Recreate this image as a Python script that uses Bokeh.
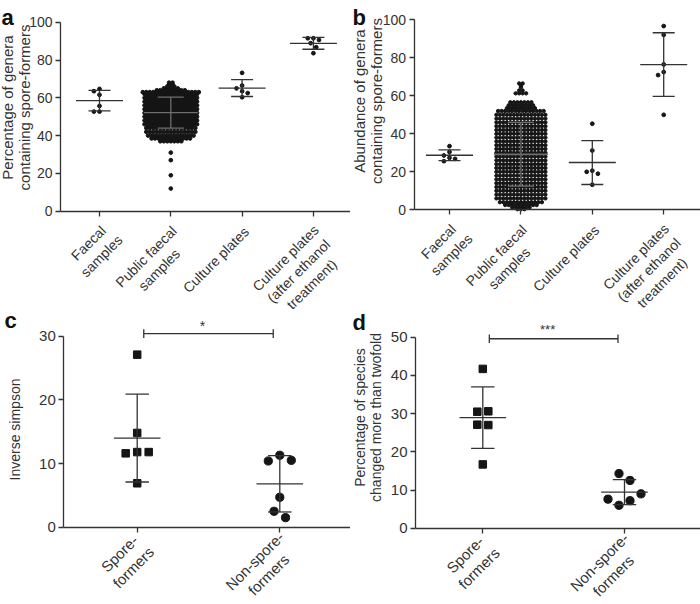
import numpy as np
from math import pi, sqrt
from bokeh.plotting import figure
from bokeh.layouts import column, row
from bokeh.models import Range1d, FixedTicker, Label
from bokeh.embed import file_html
from bokeh.resources import INLINE

FONT = "Liberation Sans"
TXT = "#333333"
LINE = "#333333"
PUBLINE = "#6e6e6e"
DOT = "#151515"

# ---------------- data ----------------
cats_ab = ["Faecal\nsamples", "Public faecal\nsamples", "Culture plates",
           "Culture plates\n(after ethanol\ntreatment)"]
cats_cd = ["Spore-\nformers", "Non-spore-\nformers"]

ylabel_a = "Percentage of genera\ncontaining spore-formers"
ylabel_b = "Abundance of genera\ncontaining spore-formers"
ylabel_c = "Inverse simpson"
ylabel_d = "Percentage of species\nchanged more than twofold"

yticks_ab = [0, 20, 40, 60, 80, 100]
yticks_c = [0, 10, 20, 30]
yticks_d = [0, 10, 20, 30, 40, 50]

a_faecal = [64.7, 63.5, 61.6, 55.7, 52.7, 52.7]
a_public_levels = [12, 19, 27, 31, 37, 38.5, 40, 42, 44, 45, 46, 47, 48, 49, 50, 51,
                   52, 53, 54, 55, 56, 57, 58, 59, 60, 61, 62, 63, 64, 65, 66, 67, 68]
a_public_counts = [1, 1, 1, 1, 7, 12, 14, 15, 15, 14, 16, 15, 16, 15, 16, 15,
                   16, 15, 16, 15, 16, 15, 16, 15, 16, 15, 16, 17, 9, 5, 3, 2, 2]
a_culture = [73.2, 66.5, 65.0, 63.5, 62.5, 60.3]
a_ethanol = [91.5, 91.5, 90.6, 88.9, 86.8, 83.6]

b_faecal = [33.5, 30.4, 28.6, 27.4, 26.8, 25.6]
b_public_levels = [0.3, 1.2, 2.5, 4, 6, 8, 10, 12, 14, 16, 18, 20, 22, 24, 26, 28, 30,
                   32, 34, 36, 38, 40, 42, 44, 46, 48, 50, 52, 53.5, 55, 56.6,
                   61.3, 62.8, 64.5, 65.4, 66.5]
b_public_counts = [3, 6, 10, 13, 15, 15, 15, 15, 15, 15, 15, 15, 15, 15, 15, 15, 15,
                   15, 15, 15, 15, 15, 15, 15, 15, 15, 15, 14, 9, 8, 7,
                   4, 2, 1, 1, 2]
b_culture = [45.3, 31.2, 20.6, 20.0, 19.0, 13.2]
b_ethanol = [96.7, 92.1, 76.5, 72.5, 70.9, 50.0]

c_spore = [27.1, 14.8, 11.6, 11.8, 11.8, 6.9]
c_nonspore = [10.4, 11.3, 10.5, 4.7, 2.5, 1.5]
d_spore = [41.7, 30.5, 30.6, 27.1, 27.0, 16.7]
d_nonspore = [14.3, 12.5, 7.6, 6.0, 7.2, 9.0]

c_sig_text, c_sig_y = "*", 30.4
d_sig_text, d_sig_y = "***", 49.6

r2 = sqrt(0.5)


# ---------------- helpers ----------------
def new_fig(L, yticks, ncat, tfs, transparent=False):
    """L: canvas size W,H; axis pixel position AXX, AY0 (from top);
    tick0 pixel T0; px per x unit SX; px per y unit SY."""
    W, H = L["W"], L["H"]
    x0 = -L["T0"] / L["SX"]
    x1 = (W - L["T0"]) / L["SX"]
    y0 = -(H - L["AY0"]) / L["SY"]
    y1 = L["AY0"] / L["SY"]
    xa = (L["AXX"] - L["T0"]) / L["SX"]
    p = figure(width=W, height=H, x_range=Range1d(x0, x1), y_range=Range1d(y0, y1),
               output_backend="svg", toolbar_location=None, min_border=0)
    p.title.visible = False
    p.outline_line_color = None
    p.xgrid.visible = False
    p.ygrid.visible = False
    if transparent:
        p.background_fill_color = None
        p.border_fill_color = None
    else:
        p.background_fill_color = "white"
        p.border_fill_color = "white"
    for ax in (p.xaxis[0], p.yaxis[0]):
        ax.axis_line_color = LINE
        ax.axis_line_width = 1.3
        ax.major_tick_line_color = LINE
        ax.major_tick_line_width = 1.3
        ax.major_tick_in = 0
        ax.major_tick_out = 5
        ax.minor_tick_line_color = None
    p.yaxis[0].fixed_location = xa
    p.yaxis.ticker = FixedTicker(ticks=yticks)
    p.yaxis.bounds = (yticks[0], yticks[-1])
    p.yaxis.major_label_text_font = FONT
    p.yaxis.major_label_text_font_size = tfs
    p.yaxis.major_label_text_color = TXT
    p.yaxis.major_label_standoff = 3
    p.xaxis[0].fixed_location = 0
    p.xaxis.bounds = (xa, x1)
    p.xaxis.ticker = FixedTicker(ticks=list(range(ncat)))
    p.xaxis.major_label_overrides = {i: "" for i in range(ncat)}
    p.xaxis.major_label_standoff = 0
    return p


def pack2d(vals, px_y, d, step):
    cands = [0.0]
    for i in range(1, 30):
        cands += [-i * step, i * step]
    placed, offs = [], []
    for v in vals:
        y = v * px_y
        for c in cands:
            if all((c - a) ** 2 + (y - b) ** 2 >= d * d for a, b in placed):
                break
        placed.append((c, y))
        offs.append(c)
    return offs


def rows_layout(vals, px_y, thr, dx):
    order = sorted(range(len(vals)), key=lambda i: vals[i])
    clusters, cur = [], [order[0]]
    for a, b in zip(order, order[1:]):
        if (vals[b] - vals[a]) * px_y < thr:
            cur.append(b)
        else:
            clusters.append(cur)
            cur = [b]
    clusters.append(cur)
    offs = [0.0] * len(vals)
    for cl in clusters:
        cl = sorted(cl)
        n = len(cl)
        for k, i in enumerate(cl):
            offs[i] = (k - (n - 1) / 2) * dx
    return offs


def expand(levels, counts, dx):
    xs, ys = [], []
    for lv, n in zip(levels, counts):
        for k in range(n):
            xs.append((k - (n - 1) / 2) * dx)
            ys.append(lv)
    return xs, ys


def mean_sd(p, xc, vals, px_x, mhalf, chalf, color):
    m = float(np.mean(vals))
    s = float(np.std(vals, ddof=1))
    mh, ch = mhalf / px_x, chalf / px_x
    p.segment(x0=[xc - mh, xc - ch, xc - ch, xc], y0=[m, m + s, m - s, m - s],
              x1=[xc + mh, xc + ch, xc + ch, xc], y1=[m, m + s, m - s, m + s],
              line_color=color, line_width=1.3)


def small_group(p, xc, vals, L, marker="circle", size=3.8, d=5.0, step=2.8,
                rows=False, mhalf=23.5, chalf=11.0):
    px_x, px_y = L["SX"], L["SY"]
    if rows:
        offs = rows_layout(vals, px_y, d, step)
    else:
        offs = pack2d(vals, px_y, d, step)
    p.scatter([xc + o / px_x for o in offs], vals, marker=marker, size=size,
              fill_color=DOT, line_color=DOT)
    mean_sd(p, xc, vals, px_x, mhalf, chalf, LINE)


def public_group(p, xc, levels, counts, L, dx=3.5, size=3.7):
    xs, ys = expand(levels, counts, dx)
    p.scatter([xc + x / L["SX"] for x in xs], ys, marker="circle", size=size,
              fill_color=DOT, line_color=DOT)
    mean_sd(p, xc, ys, L["SX"], 27.0, 13.0, PUBLINE)


def cat_labels(p, cats, fs, down=11, shift=0, lh=1.15, cw=0.46):
    for i, c in enumerate(cats):
        lines = c.split("\n")
        n = len(lines)
        W = cw * fs * max(len(l) for l in lines)
        H = n * lh * fs
        dx = (-W / 2 + H / 2) * r2 + shift
        dy = (W / 2 + H / 2) * r2 + down
        p.add_layout(Label(x=i, y=0, x_offset=dx, y_offset=-dy, text=c, angle=pi / 4,
                           text_align="center", text_baseline="middle",
                           text_font=FONT, text_font_size=f"{fs}px",
                           text_line_height=lh, text_color=TXT))


def side_title(p, text, x, y, fs, lh=1.0):
    p.add_layout(Label(x=x, y=y, x_units="screen", y_units="screen", text=text,
                       angle=pi / 2, text_align="center", text_baseline="middle",
                       text_font=FONT, text_font_size=f"{fs}px", text_line_height=lh,
                       text_color=TXT))


def letter(p, text, x, y):
    p.add_layout(Label(x=x, y=y, x_units="screen", y_units="screen", text=text,
                       text_align="left", text_baseline="alphabetic",
                       text_font=FONT, text_font_style="bold",
                       text_font_size="22px", text_color="#111111"))


def sig(p, text, y, px_y, fs, yoff):
    tk = 4.3 / px_y
    a, b = 0.046, 0.954
    p.segment(x0=[a, a, b], y0=[y, y - tk, y - tk], x1=[b, a, b], y1=[y, y + tk, y + tk],
              line_color=LINE, line_width=1.3)
    p.add_layout(Label(x=0.5, y=y, x_offset=-6, y_offset=yoff, text=text,
                       text_align="center", text_baseline="alphabetic",
                       text_font=FONT, text_font_size=f"{fs}px", text_color=TXT))


OVER = 12  # top-row canvases reach under the bottom row (labels run on, as in the source)

# ---------------- panel a ----------------
LA = dict(W=350, H=300 + OVER, AXX=60, AY0=210.7, T0=99, SX=71.3, SY=1.89)
pa = new_fig(LA, yticks_ab, 4, "14px")
public_group(pa, 1, a_public_levels, a_public_counts, LA)
small_group(pa, 0, a_faecal, LA)
small_group(pa, 2, a_culture, LA)
small_group(pa, 3, a_ethanol, LA)
cat_labels(pa, cats_ab, 14)
side_title(pa, ylabel_a, 15, LA["H"] - 107, 15)
letter(pa, "a", 1, LA["H"] - 17)

# ---------------- panel b ----------------
LB = dict(W=350, H=300 + OVER, AXX=63.5, AY0=209.3, T0=99, SX=71.4, SY=1.90)
pb = new_fig(LB, yticks_ab, 4, "14px")
public_group(pb, 1, b_public_levels, b_public_counts, LB, size=3.4)
small_group(pb, 0, b_faecal, LB)
small_group(pb, 2, b_culture, LB)
small_group(pb, 3, b_ethanol, LB)
cat_labels(pb, cats_ab, 14)
side_title(pb, ylabel_b, 17.5, LB["H"] - 100.5, 15)
letter(pb, "b", 2, LB["H"] - 16.5)

# ---------------- panel c ----------------
LC = dict(W=350, H=304, AXX=63.3, AY0=226.7, T0=136.7, SX=142.6, SY=6.367)
pc = new_fig(LC, yticks_c, 2, "15px", transparent=True)
small_group(pc, 0, c_spore, LC, marker="square", size=7.5, d=11, step=11.5,
            rows=True, mhalf=23.3, chalf=11.7)
small_group(pc, 1, c_nonspore, LC, marker="circle", size=8.2, d=11, step=11.5,
            rows=True, mhalf=23.3, chalf=11.7)
sig(pc, c_sig_text, c_sig_y, LC["SY"], 14, 7.5)
cat_labels(pc, cats_cd, 15, down=4, shift=-6)
side_title(pc, ylabel_c, 14, 175, 14)
letter(pc, "c", 4, 284)

# ---------------- panel d ----------------
LD = dict(W=350, H=304, AXX=65, AY0=227.7, T0=132.3, SX=141.7, SY=3.82)
pd = new_fig(LD, yticks_d, 2, "15px", transparent=True)
small_group(pd, 0, d_spore, LD, marker="square", size=7.5, d=11, step=11.0,
            rows=True, mhalf=23.3, chalf=11.7)
small_group(pd, 1, d_nonspore, LD, marker="circle", size=8.2, d=11, step=11.0,
            rows=True, mhalf=23.3, chalf=11.7)
sig(pd, d_sig_text, d_sig_y, LD["SY"], 13, 9.0)
cat_labels(pd, cats_cd, 15, down=4, shift=-6)
side_title(pd, ylabel_d, 17.5, 187, 14)
letter(pd, "d", 2, 282)

layout = column(row(pa, pb), row(pc, pd, margin=(-OVER, 0, 0, 0)))
open("out.html", "w").write(file_html(layout, INLINE))
